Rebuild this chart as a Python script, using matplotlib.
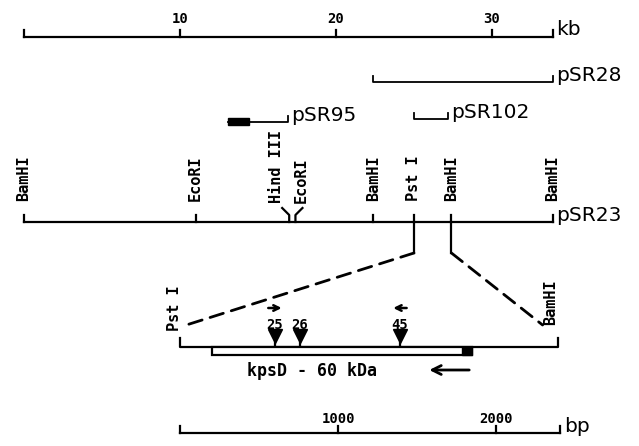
import numpy as np
import matplotlib
matplotlib.use("Agg")
import matplotlib.pyplot as plt
from matplotlib.patches import Rectangle, ConnectionPatch

# kb scale and pSR23 restriction map
kb_ticks = [10, 20, 30]
kb_end = 33.9
site_names = ["BamHI", "EcoRI", "Hind III", "EcoRI", "BamHI", "Pst I", "BamHI", "BamHI"]
site_kb = [0.0, 11.0, 17.0, 17.4, 22.4, 25.0, 27.4, 33.9]

# subclones
clone_names = ["pSR28", "pSR95", "pSR102"]
clone_start = [22.4, 13.1, 25.0]
clone_end = [33.9, 16.9, 27.2]
pSR95_box_end = 14.4

# expanded Pst I - BamHI fragment (bp)
bp_ticks = [1000, 2000]
bp_end = 2405
frag_end = 2390
kpsD_start = 203
kpsD_end = 1848
kpsD_dark = 1785
ins_names = ["25", "26", "45"]
ins_bp = [601, 759, 1392]
ins_dir = [1, 0, -1]

W, H = 639, 446
fig = plt.figure(figsize=(W / 100, H / 100), dpi=100)

# both axes fill the figure; x in kb or bp, y in pixel rows
px_per_kb = 15.6
kb0 = 24
ax = fig.add_axes([0, 0, 1, 1])
ax.set_xlim(-kb0 / px_per_kb, (W - kb0) / px_per_kb)
ax.set_ylim(H, 0)
ax.axis("off")

px_per_bp = 0.158
bp0 = 180
ax2 = fig.add_axes([0, 0, 1, 1])
ax2.set_xlim(-bp0 / px_per_bp, (W - bp0) / px_per_bp)
ax2.set_ylim(H, 0)
ax2.axis("off")
ax2.patch.set_alpha(0)

lw = 1.6
mono = dict(family="DejaVu Sans Mono", weight="bold")
sans = dict(family="DejaVu Sans", fontsize=14.5)

# --- kb scale ---
y = 37
ax.plot([0, kb_end], [y, y], color="k", lw=lw)
for t in [0] + kb_ticks + [kb_end]:
    ax.plot([t, t], [y, y - 7], color="k", lw=lw)
for t in kb_ticks:
    ax.text(t, 26, str(t), ha="center", va="bottom", fontsize=10, **mono)
ax.text(kb_end + 0.2, y + 2, "kb", ha="left", va="bottom", **sans)

# --- subclones ---
clone_y = [82, 122, 119]
for name, s, e, cy in zip(clone_names, clone_start, clone_end, clone_y):
    if name == "pSR95":
        ax.plot([s, e, e], [cy, cy, cy - 6], color="k", lw=1.3)
    else:
        ax.plot([s, s, e, e], [cy - 6, cy, cy, cy - 6], color="k", lw=1.3)
    ax.text(e + 0.2, cy + 3, name, ha="left", va="bottom", **sans)
ax.add_patch(Rectangle((clone_start[1], 118), pSR95_box_end - clone_start[1], 7,
                       color="k"))

# --- pSR23 map ---
y = 222
ax.plot([site_kb[0], site_kb[-1]], [y, y], color="k", lw=lw)
ax.text(site_kb[-1] + 0.2, y + 3, "pSR23", ha="left", va="bottom", **sans)
label_shift = {2: -0.8, 3: 0.4}
for i, (name, k) in enumerate(zip(site_names, site_kb)):
    if i in label_shift:
        d = np.sign(label_shift[i])
        ax.plot([k + d * 0.45, k, k], [208, 215, y], color="k", lw=lw)
        ax.text(k + label_shift[i], 203, name, rotation=90, ha="center", va="bottom",
                fontsize=11, **mono)
    else:
        ax.plot([k, k], [y, y - 7], color="k", lw=lw)
        ax.text(k, 201, name, rotation=90, ha="center", va="bottom", fontsize=11, **mono)

# --- lines down to the expanded fragment ---
pst_kb, bam_kb = site_kb[5], site_kb[6]
ax.plot([pst_kb, pst_kb], [y, 253], color="k", lw=lw)
ax.plot([bam_kb, bam_kb], [y, 253], color="k", lw=lw)
for xa, xb in [(pst_kb, 40), (bam_kb, frag_end - 95)]:
    con = ConnectionPatch(xyA=(xa, 253), coordsA=ax.transData,
                          xyB=(xb, 325), coordsB=ax2.transData,
                          color="k", lw=2, linestyle=(0, (5, 3)))
    fig.add_artist(con)

# --- expanded fragment ---
y = 347
ax2.plot([0, 0, frag_end, frag_end], [y - 9, y, y, y - 9], color="k", lw=lw)
ax2.text(-35, 331, "Pst I", rotation=90, ha="center", va="bottom", fontsize=11, **mono)
ax2.text(frag_end - 45, 325, "BamHI", rotation=90, ha="center", va="bottom", fontsize=11, **mono)
ax2.add_patch(Rectangle((kpsD_start, y), kpsD_end - kpsD_start, 8,
                        facecolor="white", edgecolor="k", lw=lw, zorder=3))
ax2.add_patch(Rectangle((kpsD_dark, y), kpsD_end - kpsD_dark, 8, color="k", zorder=4))
ax2.text(835, 371, "kpsD - 60 kDa", ha="center", va="center", fontsize=12, **mono)
ax2.annotate("", xy=(1560, 370), xytext=(kpsD_end, 370),
             arrowprops=dict(arrowstyle="->", lw=2, color="k", mutation_scale=16))

for name, b, d in zip(ins_names, ins_bp, ins_dir):
    ax2.plot([b, b], [y, 338], color="k", lw=lw)
    ax2.plot([b], [336], marker="v", markersize=10, color="k")
    ax2.text(b, 325, name, ha="center", va="center", fontsize=10, **mono)
    if d != 0:
        ax2.annotate("", xy=(b + d * 60, 308), xytext=(b - d * 60, 308),
                     arrowprops=dict(arrowstyle="->", lw=1.8, color="k",
                                     mutation_scale=10))

# --- bp scale ---
y = 433
ax2.plot([0, bp_end], [y, y], color="k", lw=lw)
for t in [0] + bp_ticks + [bp_end]:
    ax2.plot([t, t], [y, y - 7], color="k", lw=lw)
for t in bp_ticks:
    ax2.text(t, 426, str(t), ha="center", va="bottom", fontsize=10, **mono)
ax2.text(bp_end + 25, y + 3, "bp", ha="left", va="bottom", **sans)

fig.savefig("out.png", dpi=100)
